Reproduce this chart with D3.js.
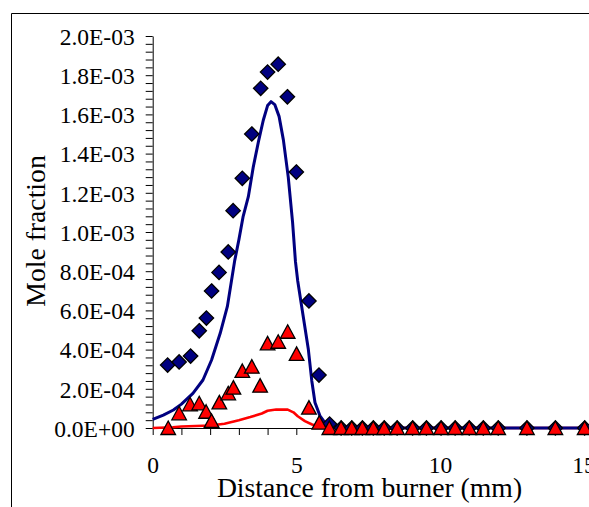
<!DOCTYPE html>
<html>
<head>
<meta charset="utf-8">
<script src="https://cdn.jsdelivr.net/npm/d3@7"></script>
<style>
  html, body { margin: 0; padding: 0; background: #fff; }
  svg { display: block; }
</style>
</head>
<body>
<svg id="chart" width="589" height="507"></svg>
<script>
// ---- Data ----
// Measured species (blue diamonds)
const diamondX = [0.52, 0.92, 1.32, 1.62, 1.87, 2.05, 2.31, 2.63, 2.80, 3.12, 3.45, 3.76, 4.00, 4.37, 4.69, 5.00, 5.44, 5.79, 6.16,
                  6.56, 6.93, 7.30, 7.68, 8.06, 8.51, 9.05, 9.53, 10.04, 10.53, 11.02, 11.51, 12.03, 13.03, 14.02, 15.04];
const diamondY = [3.21e-4, 3.37e-4, 3.67e-4, 4.96e-4, 5.61e-4, 6.99e-4, 7.94e-4, 8.98e-4, 1.109e-3, 1.274e-3, 1.50e-3, 1.733e-3, 1.816e-3, 1.856e-3, 1.69e-3, 1.306e-3, 6.48e-4, 2.70e-4, 2.0e-5,
                  0, 0, 0, 0, 0, 0, 0, 0, 0, 0, 0, 0, 0, 0, 0, 0];
// Measured species (red triangles)
const triangleX = [0.54, 0.92, 1.30, 1.62, 1.86, 2.05, 2.32, 2.63, 2.81, 3.12, 3.45, 3.74, 4.00, 4.37, 4.70, 5.01, 5.44, 5.80,
                   6.15, 6.56, 6.93, 7.30, 7.68, 8.06, 8.51, 9.05, 9.53, 10.04, 10.53, 11.02, 11.51, 12.03, 13.03, 14.02, 15.04];
const triangleY = [0, 7.5e-5, 1.21e-4, 1.26e-4, 8.3e-5, 3.6e-5, 1.31e-4, 1.77e-4, 2.06e-4, 2.91e-4, 3.13e-4, 2.16e-4, 4.32e-4, 4.40e-4, 4.91e-4, 3.78e-4, 1.04e-4, 2.7e-5,
                   0, 0, 0, 0, 0, 0, 0, 0, 0, 0, 0, 0, 0, 0, 0, 0, 0];
// Model (blue line)
const blueLineX = [0, 0.37, 0.72, 1.0, 1.4, 1.75, 2.05, 2.35, 2.6, 2.85, 3.0, 3.15, 3.33, 3.5, 3.68, 3.85, 4.0, 4.12, 4.25, 4.4, 4.55, 4.72, 4.87, 4.97, 5.05, 5.24, 5.42, 5.54, 5.65, 5.83, 6.06, 6.5, 15.0];
const blueLineY = [4.4e-5, 6.6e-5, 9.2e-5, 1.22e-4, 1.77e-4, 2.45e-4, 3.47e-4, 4.83e-4, 6.2e-4, 8.5e-4, 9.6e-4, 1.08e-3, 1.18e-3, 1.33e-3, 1.46e-3, 1.57e-3, 1.645e-3, 1.665e-3, 1.65e-3, 1.59e-3, 1.47e-3, 1.28e-3, 1.05e-3, 8.5e-4, 7.5e-4, 5.7e-4, 4.0e-4, 2.4e-4, 1.3e-4, 6.0e-5, 1.5e-5, 0, 0];
// Model (red line)
const redLineX = [0, 0.7, 1.0, 2.0, 2.5, 3.0, 3.4, 3.8, 4.0, 4.3, 4.7, 4.9, 5.05, 5.3, 5.55, 5.85, 6.2, 15.0];
const redLineY = [0, 4e-6, 8e-6, 1.3e-5, 2.2e-5, 4.0e-5, 5.6e-5, 7.4e-5, 8.8e-5, 9.4e-5, 9.4e-5, 8.0e-5, 6.0e-5, 3.5e-5, 1.8e-5, 5e-6, 0, 0];

// Ticks
const xTickValues = [0, 5, 10, 15];
const xTickLabels = ["0", "5", "10", "15"];
const yTickValues = [0, 2e-4, 4e-4, 6e-4, 8e-4, 1.0e-3, 1.2e-3, 1.4e-3, 1.6e-3, 1.8e-3, 2.0e-3];
const yTickLabels = ["0.0E+00", "2.0E-04", "4.0E-04", "6.0E-04", "8.0E-04", "1.0E-03", "1.2E-03", "1.4E-03", "1.6E-03", "1.8E-03", "2.0E-03"];
const xTitle = "Distance from burner (mm)";
const yTitle = "Mole fraction";

// ---- Layout ----
const svg = d3.select("#chart");
const x0 = 152.7, pxPerUnit = 28.72;
const x = d3.scaleLinear().domain([0, 15.3]).range([x0, x0 + 15.3 * pxPerUnit]);
const y = d3.scaleLinear().domain([0, 2.0e-3]).range([428, 36]);
const FONT = "'Liberation Serif', 'Times New Roman', serif";

// outer frame (partial, chart area border)
svg.append("path")
  .attr("d", "M11.5,507 L11.5,13.5 L589,13.5")
  .attr("fill", "none").attr("stroke", "#000").attr("stroke-width", 1);

// minor tick values
const xMinor = d3.range(0, 16, 1);
const yMinor = d3.range(0, 51).map(i => i * 4e-5);

// Y axis
const yLabelMap = new Map(yTickValues.map((v, i) => [v.toFixed(6), yTickLabels[i]]));
const yAxis = d3.axisLeft(y).tickValues(yMinor).tickSize(7).tickSizeOuter(0)
  .tickFormat(v => yLabelMap.get(v.toFixed(6)) || "");
const gy = svg.append("g").attr("transform", `translate(${x0},0)`).call(yAxis);
gy.selectAll("text").attr("font-family", FONT).attr("font-size", 23.5).attr("fill", "#000")
  .attr("x", -18).attr("dy", "0.35em");
gy.selectAll("line, path").attr("stroke", "#000").attr("stroke-width", 1);

// X axis
const xLabelMap = new Map(xTickValues.map((v, i) => [v, xTickLabels[i]]));
const xAxis = d3.axisBottom(x).tickValues(xMinor).tickSize(7).tickSizeOuter(0)
  .tickFormat(v => xLabelMap.has(v) ? xLabelMap.get(v) : "");
const gx = svg.append("g").attr("transform", `translate(0,${y(0)})`).call(xAxis);
gx.selectAll("text").attr("font-family", FONT).attr("font-size", 23.5).attr("fill", "#000")
  .attr("y", 45).attr("dy", 0);
gx.selectAll("line, path").attr("stroke", "#000").attr("stroke-width", 1);

// Titles
svg.append("text").attr("x", 369.5).attr("y", 497).attr("text-anchor", "middle")
  .attr("font-family", FONT).attr("font-size", 27.7).attr("fill", "#000").text(xTitle);
svg.append("text").attr("transform", "translate(45,231) rotate(-90)").attr("text-anchor", "middle")
  .attr("font-family", FONT).attr("font-size", 27.7).attr("fill", "#000").text(yTitle);

// Lines
const redPts = redLineX.map((v, i) => [v, redLineY[i]]);
const bluePts = blueLineX.map((v, i) => [v, blueLineY[i]]);
const line = d3.line().x(d => x(d[0])).y(d => y(d[1]));
svg.append("path").attr("d", line(redPts)).attr("fill", "none")
  .attr("stroke", "#ff0000").attr("stroke-width", 2.6).attr("stroke-linejoin", "round");
svg.append("path").attr("d", line(bluePts)).attr("fill", "none")
  .attr("stroke", "#000080").attr("stroke-width", 3).attr("stroke-linejoin", "round");

// Markers
const dia = diamondX.map((v, i) => [v, diamondY[i]]);
const tri = triangleX.map((v, i) => [v, triangleY[i]]);
const r = 7.2;
svg.append("g").selectAll("path").data(dia).join("path")
  .attr("transform", d => `translate(${x(d[0])},${y(d[1])})`)
  .attr("d", `M0,${-r} L${r},0 L0,${r} L${-r},0 Z`)
  .attr("fill", "#000080").attr("stroke", "#000").attr("stroke-width", 1.3);
svg.append("g").selectAll("path").data(tri).join("path")
  .attr("transform", d => `translate(${x(d[0])},${y(d[1])})`)
  .attr("d", "M0,-7 L7.3,6.5 L-7.3,6.5 Z")
  .attr("fill", "#ff0000").attr("stroke", "#000").attr("stroke-width", 1.3).attr("stroke-linejoin", "miter");
</script>
</body>
</html>
